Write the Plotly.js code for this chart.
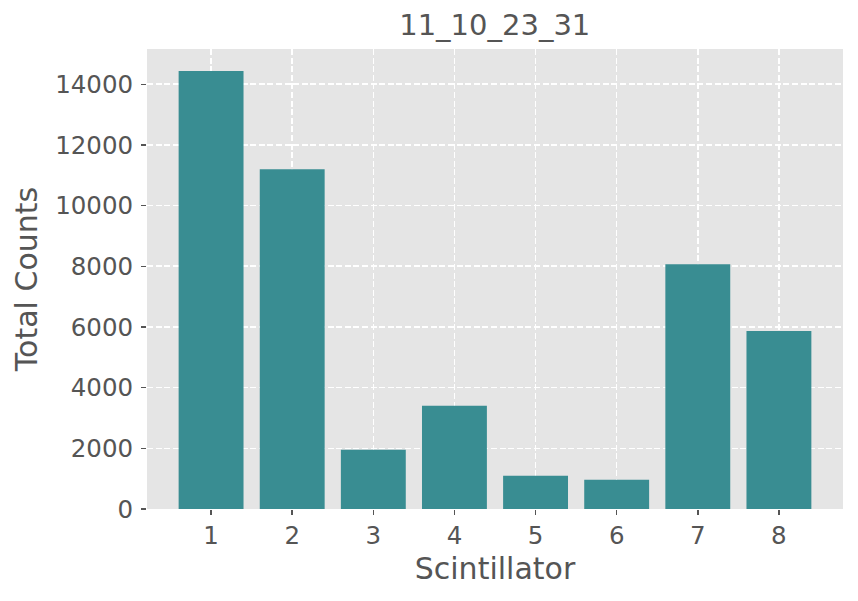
<!DOCTYPE html>
<html>
<head>
<meta charset="utf-8">
<script src="https://cdn.plot.ly/plotly-3.0.1.min.js"></script>
<style>
  html, body { margin: 0; padding: 0; background: #ffffff; }
  #chart { width: 858px; height: 601px; }
</style>
</head>
<body>
<div id="chart"></div>
<script>
const scintillators = [1, 2, 3, 4, 5, 6, 7, 8];
const totalCounts = [14440, 11200, 1955, 3400, 1100, 965, 8070, 5870];
const yTickValues = [0, 2000, 4000, 6000, 8000, 10000, 12000, 14000];
const chartTitle = '11_10_23_31';
const xLabel = 'Scintillator';
const yLabel = 'Total Counts';

const textColor = '#555555';
const fontFamily = '"DejaVu Sans", Verdana, sans-serif';

const trace = {
  type: 'bar',
  x: scintillators,
  y: totalCounts,
  width: 0.8,
  marker: { color: '#398D92', line: { width: 0 } },
  hoverinfo: 'x+y'
};

const yMax = Math.max(...totalCounts) * 1.05;

const layout = {
  width: 858,
  height: 601,
  paper_bgcolor: '#FFFFFF',
  plot_bgcolor: '#E5E5E5',
  margin: { l: 146.5, r: 15, t: 49, b: 91.7, pad: 0 },
  showlegend: false,
  font: { family: fontFamily, color: textColor },
  title: {
    text: chartTitle,
    font: { size: 29, color: textColor, family: fontFamily },
    x: 0.5 * (146.5 + 843) / 858,
    xanchor: 'center',
    y: 1 - 25 / 601,
    yanchor: 'middle'
  },
  xaxis: {
    range: [0.21, 8.79],
    tickmode: 'array',
    tickvals: scintillators,
    ticktext: scintillators.map(String),
    ticks: 'outside',
    ticklen: 5,
    tickwidth: 1.5,
    tickcolor: textColor,
    tickfont: { size: 24.5, color: textColor, family: fontFamily },
    showgrid: true,
    gridcolor: '#FFFFFF',
    gridwidth: 1.6,
    griddash: '6px,2.6px',
    zeroline: false,
    showline: false,
    automargin: false,
    title: {
      text: xLabel,
      font: { size: 30, color: textColor, family: fontFamily },
      standoff: 8
    }
  },
  yaxis: {
    range: [0, yMax],
    tickmode: 'array',
    tickvals: yTickValues,
    ticktext: yTickValues.map(String),
    ticks: 'outside',
    ticklen: 5,
    tickwidth: 1.5,
    tickcolor: textColor,
    ticklabelstandoff: 3,
    tickfont: { size: 24.5, color: textColor, family: fontFamily },
    showgrid: true,
    gridcolor: '#FFFFFF',
    gridwidth: 1.6,
    griddash: '6px,2.6px',
    zeroline: false,
    showline: false,
    automargin: false,
    title: {
      text: yLabel,
      font: { size: 30, color: textColor, family: fontFamily },
      standoff: 8.5
    }
  },
  bargap: 0.2
};

Plotly.newPlot('chart', [trace], layout, { displayModeBar: false, staticPlot: true });
</script>
</body>
</html>
